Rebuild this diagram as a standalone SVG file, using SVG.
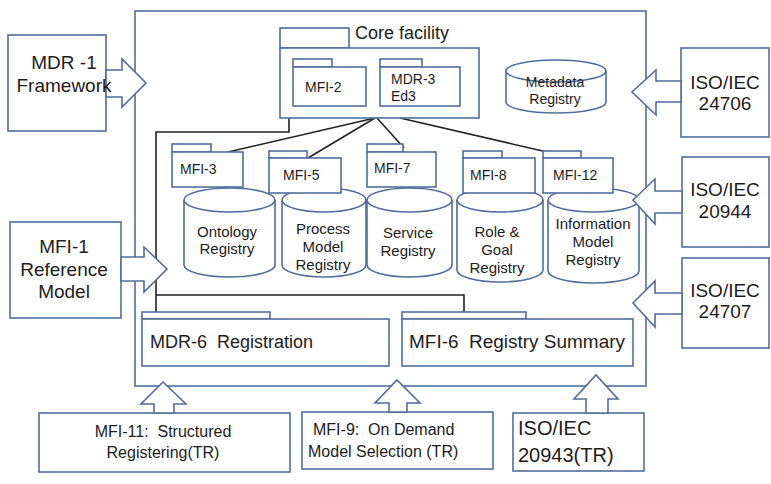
<svg xmlns="http://www.w3.org/2000/svg" width="771" height="484" viewBox="0 0 771 484">
<style>
.b{fill:#fff;stroke:#4F6E9B;stroke-width:1.6}
.t{font-family:"Liberation Sans",Arial,sans-serif;fill:#1c1c1c}
.big{font-size:19px}
.mid{font-size:18px}
.sm{font-size:14px}
.cyl{font-size:15px}
.bot{font-size:16px}
.c{text-anchor:middle}
.conn{stroke:#222;stroke-width:1.6;fill:none}
</style>
<rect id="frame" class="b" x="135" y="11" width="511" height="375"/>

<g id="connectors">
<line class="conn" x1="375" y1="118" x2="228" y2="152"/>
<line class="conn" x1="375" y1="118" x2="308" y2="158"/>
<line class="conn" x1="377" y1="118" x2="404" y2="148"/>
<line class="conn" x1="400" y1="118" x2="560" y2="155"/>
<polyline class="conn" points="289,118 289,132 156,132 156,312"/>
<polyline class="conn" points="156,295 464,295 464,312"/>
</g>

<g id="core-facility">
<rect class="b" x="280" y="28" width="69" height="20"/>
<rect class="b" x="280" y="48" width="199" height="70"/>
<text class="t mid" x="355" y="39">Core facility</text>
</g>
<g id="mfi-2">
<rect class="b" x="293" y="59" width="39" height="8"/>
<rect class="b" x="293" y="67" width="73" height="39"/>
<text class="t sm" x="305" y="92">MFI-2</text>
</g>
<g id="mdr-3">
<rect class="b" x="380" y="59" width="42" height="8"/>
<rect class="b" x="380" y="67" width="80" height="39"/>
<text class="t sm" x="391" y="84">MDR-3</text>
<text class="t sm" x="391" y="101">Ed3</text>
</g>
<g id="metadata-registry">
<path class="b" d="M506,71 L506,102 A50,11 0 0 0 606,102 L606,71"/>
<ellipse class="b" cx="556" cy="71" rx="50" ry="11"/>
<text class="t sm c" x="555" y="87">Metadata</text>
<text class="t sm c" x="555" y="104">Registry</text>
</g>

<g id="ontology-registry">
<path class="b" d="M184,200 L184,265 A45.5,12 0 0 0 275,265 L275,200"/>
<ellipse class="b" cx="229.5" cy="200" rx="45.5" ry="12"/>
<text class="t cyl c" x="227" y="237">Ontology</text>
<text class="t cyl c" x="227" y="254">Registry</text>
</g>
<g id="process-model-registry">
<path class="b" d="M282,200 L282,265 A42,12 0 0 0 366,265 L366,200"/>
<ellipse class="b" cx="324" cy="200" rx="42" ry="12"/>
<text class="t cyl c" x="323" y="234">Process</text>
<text class="t cyl c" x="323" y="252">Model</text>
<text class="t cyl c" x="323" y="270">Registry</text>
</g>
<g id="service-registry">
<path class="b" d="M367,200 L367,265 A42.5,12 0 0 0 452,265 L452,200"/>
<ellipse class="b" cx="409.5" cy="200" rx="42.5" ry="12"/>
<text class="t cyl c" x="408" y="238">Service</text>
<text class="t cyl c" x="408" y="256">Registry</text>
</g>
<g id="role-goal-registry">
<path class="b" d="M457,200 L457,270 A43,12 0 0 0 543,270 L543,200"/>
<ellipse class="b" cx="500" cy="200" rx="43" ry="12"/>
<text class="t cyl c" x="497" y="237">Role &amp;</text>
<text class="t cyl c" x="497" y="255">Goal</text>
<text class="t cyl c" x="497" y="273">Registry</text>
</g>
<g id="information-model-registry">
<path class="b" d="M548,200 L548,271 A45.5,12 0 0 0 639,271 L639,200"/>
<ellipse class="b" cx="593.5" cy="200" rx="45.5" ry="12"/>
<text class="t cyl c" x="593" y="229">Information</text>
<text class="t cyl c" x="593" y="247">Model</text>
<text class="t cyl c" x="593" y="265">Registry</text>
</g>

<g id="mfi-3">
<rect class="b" x="172" y="144" width="39" height="8"/>
<rect class="b" x="172" y="152" width="71" height="35"/>
<text class="t sm" x="180" y="174">MFI-3</text>
</g>
<g id="mfi-5">
<rect class="b" x="269" y="151" width="38" height="7"/>
<rect class="b" x="269" y="158" width="72" height="35"/>
<text class="t sm" x="283" y="180">MFI-5</text>
</g>
<g id="mfi-7">
<rect class="b" x="367" y="144" width="36" height="8"/>
<rect class="b" x="367" y="152" width="69" height="35"/>
<text class="t sm" x="374" y="173">MFI-7</text>
</g>
<g id="mfi-8">
<rect class="b" x="463" y="151" width="39" height="7"/>
<rect class="b" x="463" y="158" width="72" height="35"/>
<text class="t sm" x="470" y="180">MFI-8</text>
</g>
<g id="mfi-12">
<rect class="b" x="543" y="151" width="38" height="7"/>
<rect class="b" x="543" y="158" width="70" height="35"/>
<text class="t sm" x="553" y="180">MFI-12</text>
</g>

<g id="mdr-6">
<rect class="b" x="142" y="312" width="128" height="7"/>
<rect class="b" x="142" y="319" width="247" height="47"/>
<text class="t mid" x="150" y="348" xml:space="preserve">MDR-6  Registration</text>
</g>
<g id="mfi-6">
<rect class="b" x="402" y="312" width="124" height="7"/>
<rect class="b" x="402" y="319" width="231" height="47"/>
<text class="t mid" x="409" y="348" textLength="216" lengthAdjust="spacingAndGlyphs" xml:space="preserve">MFI-6  Registry Summary</text>
</g>

<g id="mdr-1">
<rect class="b" x="8" y="35" width="98" height="96"/>
<polygon class="b" points="106,70 122,70 122,59 146,83 122,107 122,97 106,97"/>
<text class="t big c" x="64" y="69">MDR -1</text>
<text class="t big c" x="64" y="92">Framework</text>
</g>
<g id="mfi-1">
<rect class="b" x="10" y="222" width="111" height="96"/>
<polygon class="b" points="121,257 144,257 144,247 167,269 144,292 144,281 121,281"/>
<text class="t big c" x="64" y="253">MFI-1</text>
<text class="t big c" x="64" y="276">Reference</text>
<text class="t big c" x="64" y="298">Model</text>
</g>

<g id="iso-24706">
<rect class="b" x="681" y="48" width="88" height="89"/>
<polygon class="b" points="681,81 656,81 656,70 632,92 656,115 656,102 681,102"/>
<text class="t big c" x="725" y="89">ISO/IEC</text>
<text class="t big c" x="725" y="110">24706</text>
</g>
<g id="iso-20944">
<rect class="b" x="682" y="157" width="87" height="90"/>
<polygon class="b" points="682,191 655,191 655,179 633,200 655,224 655,213 682,213"/>
<text class="t big c" x="725" y="196">ISO/IEC</text>
<text class="t big c" x="725" y="218">20944</text>
</g>
<g id="iso-24707">
<rect class="b" x="682" y="258" width="87" height="90"/>
<polygon class="b" points="682,293 655,293 655,281 633,303 655,327 655,314 682,314"/>
<text class="t big c" x="725" y="297">ISO/IEC</text>
<text class="t big c" x="725" y="318">24707</text>
</g>

<g id="mfi-11">
<rect class="b" x="39" y="413" width="251" height="59"/>
<polygon class="b" points="154,413 154,404 141,404 163,382 186,404 174,404 174,413"/>
<text class="t bot c" x="163" y="437" xml:space="preserve">MFI-11:  Structured</text>
<text class="t bot c" x="163" y="458">Registering(TR)</text>
</g>
<g id="mfi-9">
<rect class="b" x="302" y="412" width="191" height="57"/>
<polygon class="b" points="389,412 389,403 375,403 397,380 420,403 407,403 407,412"/>
<text class="t bot" x="313" y="435" xml:space="preserve">MFI-9:  On Demand</text>
<text class="t bot" x="308" y="457">Model Selection (TR)</text>
</g>
<g id="iso-20943">
<rect class="b" x="513" y="413" width="131" height="58"/>
<polygon class="b" points="586,413 586,399 574,399 596,375 618,399 608,399 608,413"/>
<text class="t" style="font-size:20px" x="518" y="435">ISO/IEC</text>
<text class="t" style="font-size:20px" x="518" y="462">20943(TR)</text>
</g>
</svg>
